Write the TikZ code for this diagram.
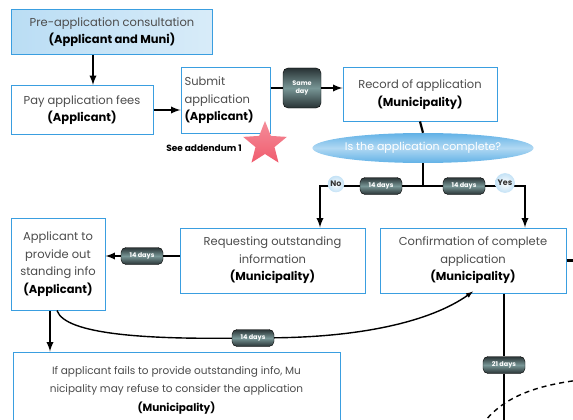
\documentclass[tikz,border=0pt]{standalone}
\usepackage{fontspec}
\setmainfont{Poppins}
\usetikzlibrary{arrows,shapes.geometric,calc}
\definecolor{boxblue}{RGB}{58,158,224}
\definecolor{pilldark}{RGB}{40,50,52}
\definecolor{pillmid}{RGB}{120,150,150}
\definecolor{starred}{RGB}{240,92,110}
\newcommand{\who}[1]{{\color{black}\bfseries #1}}

\begin{document}
\begin{tikzpicture}
      [x = 1pt, y = -1pt,
      font = \fontsize{11.5}{17.5}\selectfont,
      flow/.style = {-latex, line width = 2.2pt},
      link/.style = {line width = 2.2pt},
      stepbox/.style= {
         draw = boxblue,
         line width = 1pt,
         fill = white,
         align = center,
         text = black!70,
         inner sep = 2pt
      },
      pill/.style= {
         draw = black,
         rounded corners = 5pt,
         top color = pilldark,
         bottom color = pilldark,
         middle color = pillmid,
         text = white,
         font = \fontsize{6.5}{8}\selectfont\bfseries,
         inner sep = 1pt,
         minimum width = 42,
         minimum height = 17
      },
      answer/.style= {
         circle,
         inner sep = 1.5pt,
         inner color = white,
         outer color = boxblue!30,
         font = \fontsize{8}{9}\selectfont\bfseries,
         text = black!80
      }]

      \clip (0, 0) rectangle (573, 420);

      % boxes
      \node[stepbox, minimum width = 201, minimum height = 45,
            left color = boxblue!35, right color = boxblue!20]
         (pre) at (112, 32) {Pre-application consultation\\\who{(Applicant and Muni)}};
      \node[stepbox, minimum width = 142, minimum height = 49]
         (pay) at (82, 110) {Pay application fees\\\who{(Applicant)}};
      \node[stepbox, minimum width = 89, minimum height = 65, text width = 82, align = left]
         (submit) at (225.5, 100.5) {Submit\\application\\\who{(Applicant)}};
      \node[stepbox, minimum width = 154, minimum height = 53]
         (record) at (420, 94.5) {Record of application\\\who{(Municipality)}};
      \node[ellipse, minimum width = 203, minimum height = 30, inner sep = 0pt,
            top color = boxblue!80, bottom color = boxblue!80, middle color = boxblue!40,
            text = white, font = \fontsize{11}{12}\selectfont]
         (complete) at (423, 148) {Is the application complete?};
      \node[stepbox, minimum width = 185, minimum height = 65]
         (req) at (272.5, 260.5) {Requesting outstanding\\information\\\who{(Municipality)}};
      \node[stepbox, minimum width = 186, minimum height = 65]
         (conf) at (473, 260.5) {Confirmation of complete\\application\\\who{(Municipality)}};
      \node[stepbox, minimum width = 94, minimum height = 92]
         (appl) at (58, 264) {Applicant to\\provide out\\standing info\\\who{(Applicant)}};
      \node[stepbox, minimum width = 327, minimum height = 76,
            font = \fontsize{10.5}{18.5}\selectfont]
         (fail) at (176.5, 390) {If applicant fails to provide outstanding info, Mu\\nicipality may refuse to consider the application\\\who{(Municipality)}};

      % durations
      \node[pill, minimum width = 38, minimum height = 40, align = center]
         (same) at (302, 88) {Same\\day};
      \node[pill] (d1) at (381, 186) {14 days};
      \node[pill] (d2) at (464, 186) {14 days};
      \node[pill] (d3) at (142, 256) {14 days};
      \node[pill] (d4) at (253, 338) {14 days};
      \node[pill] (d5) at (504, 365) {21 days};

      \coordinate (split) at (423, 186);
      \coordinate (noturn) at (320, 186);
      \coordinate (yesturn) at (525, 186);
      \coordinate (down) at (504, 430);

      % connectors
      \draw[flow] ([xshift = -19]pre.south) -- ([xshift = -19]pre.south |- pay.north);
      \draw[flow] (pay.east) -- (pay.east -| submit.west);
      \draw[link] (submit.east |- same) -- (same);
      \draw[flow] (same) -- (same -| record.west);
      \draw[link] (record.south) -- (complete.north);
      \draw[link] (complete.south) -- (split);
      \draw[flow] (split) -- (d1) -- (noturn) -- (noturn |- req.north);
      \draw[flow] (split) -- (d2) -- (yesturn) -- (yesturn |- conf.north);
      \draw[flow] (req.west |- d3) -- (d3) -- (d3 -| appl.east);
      \draw[flow] ([xshift = -8]appl.south) -- ([xshift = -8]appl.south |- fail.north);
      \draw[flow, line width = 1.4pt] ([xshift = -1]appl.south)
         .. controls (65, 335) and (150, 339) .. (d4)
         .. controls (360, 337) and (430, 322) .. ([yshift = 2]conf.south);
      \draw[link] ([xshift = 31]conf.south) -- (d5) -- (down);
      \draw[link] (conf.east) -- ++(12, 0);
      \draw[line width = 1.4pt, dashed, dash pattern = on 5pt off 4pt]
         (482, 425) .. controls (500, 400) and (530, 386) .. (580, 380);

      \node[answer] (no) at (336, 184) {No};
      \node[answer] (yes) at (505, 183) {Yes};

      % addendum
      \node[star, star points = 5, star point ratio = 2.3, minimum size = 46,
            inner sep = 0pt, top color = starred!70, bottom color = starred]
         (mark) at (265, 144) {};
      \node[font = \fontsize{9}{10}\selectfont\bfseries] (addendum) at (204, 148) {See addendum 1};

   \end{tikzpicture}
\end{document}
